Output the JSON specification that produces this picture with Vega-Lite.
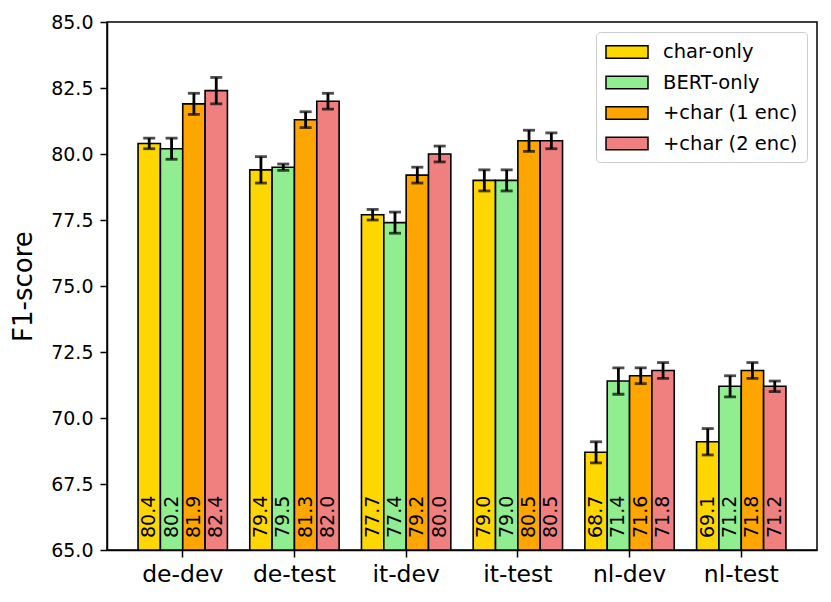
{
  "$schema": "https://vega.github.io/schema/vega-lite/v6.json",
  "autosize": {"type": "none"},
  "padding": {"left": 107, "top": 22, "right": 14, "bottom": 52},
  "width": 710,
  "height": 528,
  "config": {
    "font": "DejaVu Sans",
    "view": {"stroke": "black", "strokeWidth": 1.5},
    "axis": {
      "grid": false,
      "domainColor": "black",
      "domainWidth": 1.5,
      "tickColor": "black",
      "tickWidth": 1.5,
      "tickSize": 7,
      "labelColor": "black",
      "titleColor": "black",
      "titleFontWeight": "normal"
    },
    "legend": {
      "labelFont": "DejaVu Sans",
      "labelColor": "black"
    }
  },
  "data": {
    "values": [
      {"split": "de-dev", "model": "char-only", "score": 80.4, "err": 0.2},
      {"split": "de-dev", "model": "BERT-only", "score": 80.2, "err": 0.4},
      {"split": "de-dev", "model": "+char (1 enc)", "score": 81.9, "err": 0.4},
      {"split": "de-dev", "model": "+char (2 enc)", "score": 82.4, "err": 0.5},
      {"split": "de-test", "model": "char-only", "score": 79.4, "err": 0.5},
      {"split": "de-test", "model": "BERT-only", "score": 79.5, "err": 0.12},
      {"split": "de-test", "model": "+char (1 enc)", "score": 81.3, "err": 0.3},
      {"split": "de-test", "model": "+char (2 enc)", "score": 82.0, "err": 0.3},
      {"split": "it-dev", "model": "char-only", "score": 77.7, "err": 0.2},
      {"split": "it-dev", "model": "BERT-only", "score": 77.4, "err": 0.4},
      {"split": "it-dev", "model": "+char (1 enc)", "score": 79.2, "err": 0.3},
      {"split": "it-dev", "model": "+char (2 enc)", "score": 80.0, "err": 0.3},
      {"split": "it-test", "model": "char-only", "score": 79.0, "err": 0.4},
      {"split": "it-test", "model": "BERT-only", "score": 79.0, "err": 0.4},
      {"split": "it-test", "model": "+char (1 enc)", "score": 80.5, "err": 0.4},
      {"split": "it-test", "model": "+char (2 enc)", "score": 80.5, "err": 0.3},
      {"split": "nl-dev", "model": "char-only", "score": 68.7, "err": 0.4},
      {"split": "nl-dev", "model": "BERT-only", "score": 71.4, "err": 0.5},
      {"split": "nl-dev", "model": "+char (1 enc)", "score": 71.6, "err": 0.3},
      {"split": "nl-dev", "model": "+char (2 enc)", "score": 71.8, "err": 0.3},
      {"split": "nl-test", "model": "char-only", "score": 69.1, "err": 0.5},
      {"split": "nl-test", "model": "BERT-only", "score": 71.2, "err": 0.4},
      {"split": "nl-test", "model": "+char (1 enc)", "score": 71.8, "err": 0.3},
      {"split": "nl-test", "model": "+char (2 enc)", "score": 71.2, "err": 0.2}
    ]
  },
  "encoding": {
    "x": {
      "field": "split",
      "type": "nominal",
      "sort": null,
      "scale": {"paddingInner": 0.2, "paddingOuter": 0.278},
      "axis": {"title": null, "labelAngle": 0, "labelFontSize": 23.5, "labelPadding": 5}
    },
    "xOffset": {
      "field": "model",
      "type": "nominal",
      "sort": null,
      "scale": {"domain": ["char-only", "BERT-only", "+char (1 enc)", "+char (2 enc)"], "paddingInner": 0, "paddingOuter": 0}
    }
  },
  "layer": [
    {
      "mark": {"type": "bar", "stroke": "black", "strokeWidth": 1.6},
      "encoding": {
        "y": {
          "field": "score",
          "type": "quantitative",
          "title": "F1-score",
          "scale": {"domain": [65, 85], "zero": false, "nice": false},
          "axis": {
            "title": "F1-score",
            "titleFontSize": 26,
            "titlePadding": 14,
            "values": [65, 67.5, 70, 72.5, 75, 77.5, 80, 82.5, 85],
            "format": ".1f",
            "labelFontSize": 19,
            "labelPadding": 7
          }
        },
        "y2": {"datum": 65},
        "color": {
          "field": "model",
          "type": "nominal",
          "scale": {
            "domain": ["char-only", "BERT-only", "+char (1 enc)", "+char (2 enc)"],
            "range": ["#FFD700", "#90EE90", "#FFA500", "#F08080"]
          },
          "legend": {
            "title": null,
            "orient": "top-right",
            "offset": 10,
            "labelFontSize": 19.5,
            "symbolType": "M-1,-0.63H3.2V0.63H-1Z",
            "symbolSize": 400,
            "symbolStrokeColor": "black",
            "symbolStrokeWidth": 1.5,
            "symbolOpacity": 1,
            "labelOffset": 36,
            "rowPadding": 9.5,
            "padding": 9,
            "strokeColor": "#cccccc",
            "fillColor": "white",
            "cornerRadius": 4
          }
        }
      }
    },
    {
      "mark": {
        "type": "errorbar",
        "color": "black",
        "ticks": {"size": 12, "thickness": 2.8, "color": "black"},
        "rule": {"strokeWidth": 2.8, "color": "black"}
      },
      "encoding": {
        "y": {"field": "score", "type": "quantitative", "title": "F1-score"},
        "yError": {"field": "err"}
      }
    },
    {
      "mark": {
        "type": "text",
        "angle": 270,
        "align": "left",
        "baseline": "middle",
        "dx": 12,
        "fontSize": 19,
        "color": "black"
      },
      "encoding": {
        "y": {"datum": 65},
        "text": {"field": "score", "type": "quantitative", "format": ".1f"}
      }
    }
  ]
}
